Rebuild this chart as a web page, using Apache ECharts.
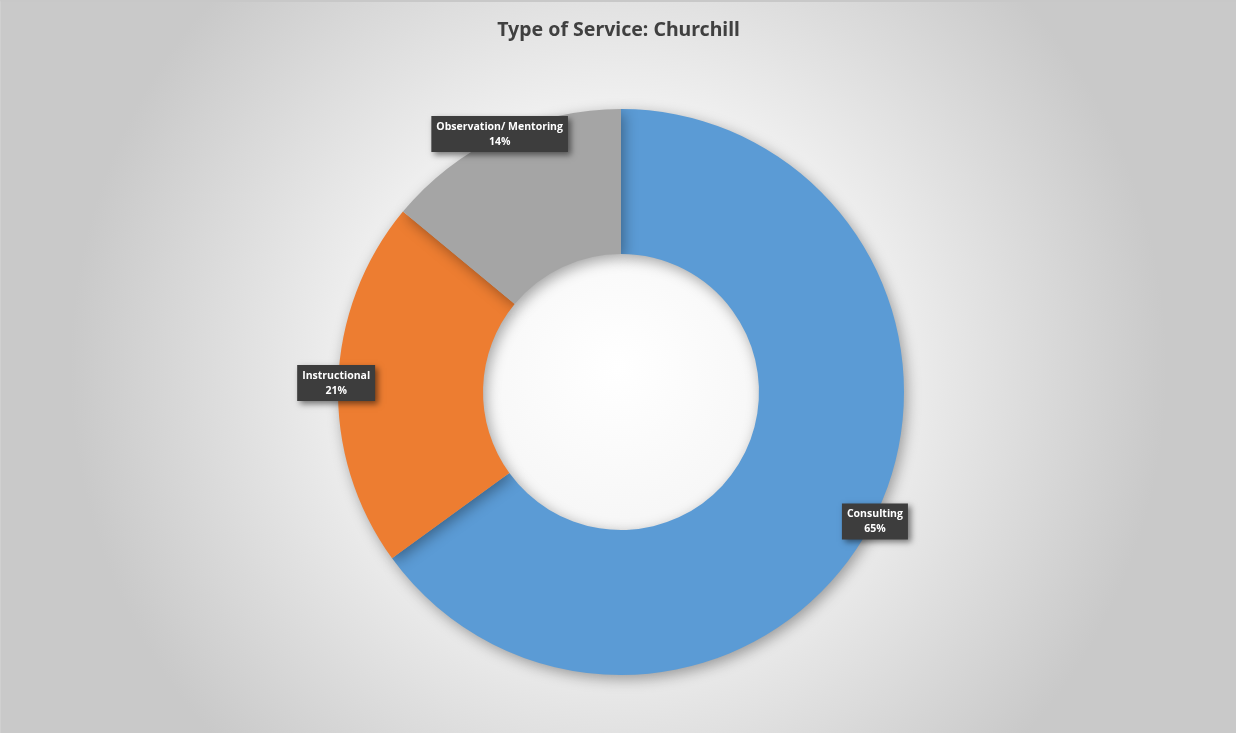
<!DOCTYPE html>
<html>
<head>
<meta charset="utf-8">
<script src="https://cdn.jsdelivr.net/npm/echarts@6/dist/echarts.min.js"></script>
<style>
html,body{margin:0;padding:0;background:#fff;}
#chart{width:1236px;height:733px;box-sizing:border-box;border-top:2px solid #c8c8c8;border-left:1px solid #d0d0d0;}
</style>
</head>
<body>
<div id="chart"></div>
<script>
const titleText = 'Type of Service: Churchill';
const categories = ['Consulting', 'Instructional', 'Observation/ Mentoring'];
const values = [65, 21, 14];
const colors = ['#5B9BD5', '#ED7D31', '#A5A5A5'];

const chart = echarts.init(document.getElementById('chart'));
const data = categories.map((c, i) => ({ name: c, value: values[i] }));

chart.setOption({
  backgroundColor: {
    type: 'radial', x: 0.5, y: 0.5, r: 0.75,
    colorStops: [
      { offset: 0, color: '#ffffff' },
      { offset: 0.45, color: '#f2f2f2' },
      { offset: 1, color: '#c9c9c9' }
    ]
  },
  title: {
    text: titleText,
    left: 'center',
    top: 13,
    textStyle: { fontFamily: 'Noto Sans', fontSize: 19.5, fontWeight: 'bold', color: '#404040' }
  },
  series: [
    {
      type: 'pie',
      center: [620, 390],
      radius: [138, 283],
      startAngle: 90,
      clockwise: true,
      silent: true,
      data: data.map((d, i) => ({ ...d, itemStyle: { color: colors[i] } })),
      itemStyle: {
        shadowBlur: 14, shadowColor: 'rgba(0,0,0,0.35)', shadowOffsetX: 3, shadowOffsetY: 4
      },
      label: { show: false },
      labelLine: { show: false }
    },
    {
      type: 'pie',
      center: [620, 390],
      radius: [266, 298],
      startAngle: 90,
      clockwise: true,
      silent: true,
      data: data,
      itemStyle: { color: 'rgba(0,0,0,0)' },
      label: {
        show: true,
        position: 'inside',
        formatter: '{b}\n{d}%',
        fontFamily: 'Open Sans',
        fontSize: 10.5,
        fontWeight: 'bold',
        lineHeight: 15,
        color: '#ffffff',
        backgroundColor: '#3d3d3d',
        padding: [3, 5, 3, 5],
        shadowBlur: 6,
        shadowColor: 'rgba(0,0,0,0.5)',
        shadowOffsetX: 3,
        shadowOffsetY: 3
      },
      labelLine: { show: false }
    }
  ]
});
</script>
</body>
</html>
